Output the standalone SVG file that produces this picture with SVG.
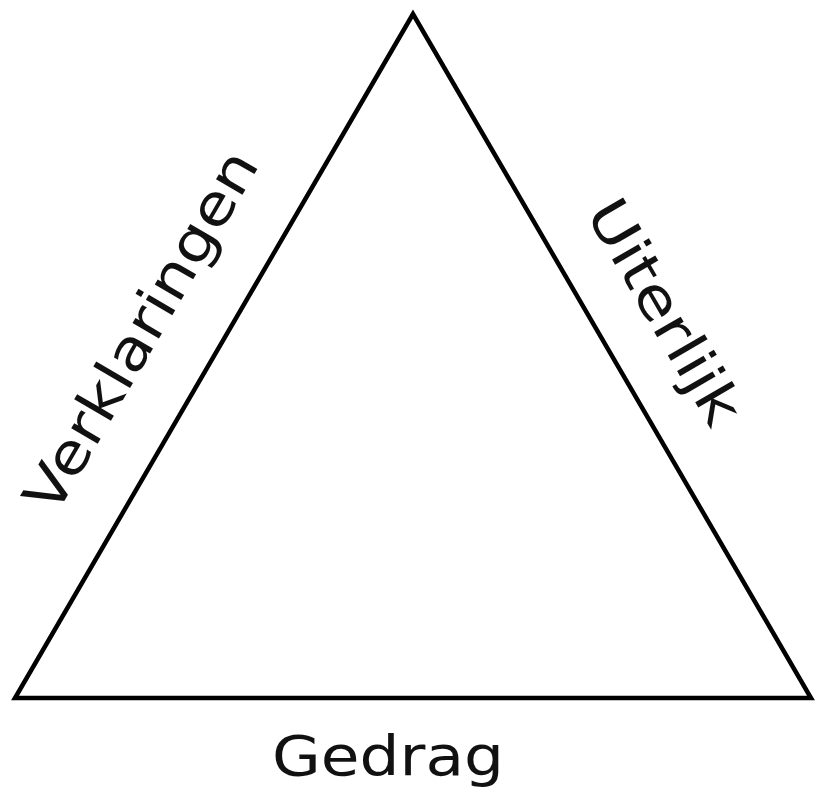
<svg xmlns="http://www.w3.org/2000/svg" width="815" height="796" viewBox="0 0 815 796">
  <style>
    .lbl { font-family: "DejaVu Sans", Verdana, sans-serif; font-size: 56px; fill: #111; }
    .tri { fill: none; stroke: #000; stroke-width: 4.5; stroke-linejoin: miter; }
  </style>
  <rect width="815" height="796" fill="#fff"/>
  <g id="connectors">
    <polygon class="tri" points="413,14 15,698 811,698"/>
  </g>
  <g id="verklaringen">
    <text class="lbl" transform="translate(55,517) rotate(-59.8)" x="0" y="0" textLength="408" lengthAdjust="spacingAndGlyphs">Verklaringen</text>
  </g>
  <g id="uiterlijk">
    <text class="lbl" transform="translate(585,213) rotate(59.8)" x="0" y="0" textLength="251" lengthAdjust="spacingAndGlyphs">Uiterlijk</text>
  </g>
  <g id="gedrag">
    <text class="lbl" x="272" y="775" textLength="232" lengthAdjust="spacingAndGlyphs">Gedrag</text>
  </g>
</svg>
